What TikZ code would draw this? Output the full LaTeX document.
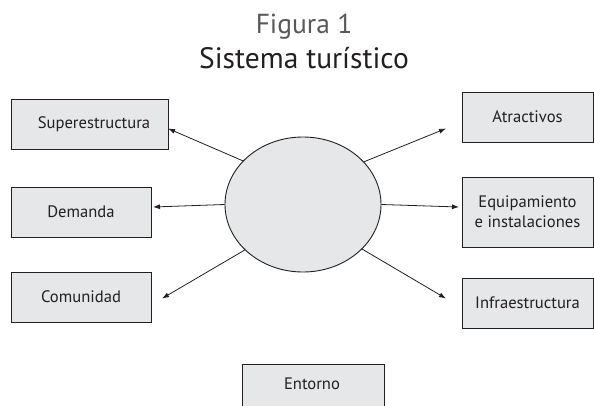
\documentclass[tikz,border=0pt]{standalone}
\usepackage{fontspec}
\setmainfont{PT Sans}
\usetikzlibrary{shapes.geometric,arrows.meta}
\definecolor{boxfill}{HTML}{E6E7E8}
\definecolor{ink}{HTML}{231F20}
\begin{document}
\begin{tikzpicture}[x=1pt,y=-1pt,
  box/.style={draw=ink,fill=boxfill,line width=0.9pt,rectangle,inner sep=0pt,font=\fontsize{16.6}{20}\selectfont,text=ink,align=center},
  arr/.style={draw=ink,line width=0.8pt,-{Latex[length=7pt,width=5pt]}}]
\useasboundingbox (0,0) rectangle (594,405);
\clip (0,0) rectangle (594,405);
\node[text=ink!75,font=\fontsize{27.5}{30}\selectfont,anchor=base] (t1) at (304,33) {Figura 1};
\node[text=ink,font=\fontsize{29.5}{33}\selectfont,anchor=base] (t2) at (304,68) {Sistema turístico};
\node[box,minimum width=157pt,minimum height=50pt] (sup) at (89.5,124) {\hspace*{9pt}Superestructura};
\node[box,minimum width=140pt,minimum height=50pt] (dem) at (81,212) {Demanda};
\node[box,minimum width=140pt,minimum height=50pt] (com) at (81,297) {Comunidad};
\node[box,minimum width=131pt,minimum height=50pt] (atr) at (527.5,117) {Atractivos};
\node[box,minimum width=131pt,minimum height=70pt] (equ) at (527.5,212) {Equipamiento\\e instalaciones};
\node[box,minimum width=131pt,minimum height=50pt] (inf) at (527.5,303) {Infraestructura};
\node[box,minimum width=142pt,minimum height=82pt,anchor=north] (ent) at (313,364) {};
\node[font=\fontsize{16.6}{20}\selectfont,text=ink] (entl) at (312,384) {Entorno};
\node[draw=ink,fill=boxfill,line width=0.9pt,ellipse,inner sep=0pt,minimum width=156pt,minimum height=135pt] (e) at (303,204.5) {};
\coordinate (c1) at (168,128.5);
\coordinate (c2) at (153,207);
\coordinate (c3) at (162,298.5);
\coordinate (c4) at (446,128.5);
\coordinate (c5) at (459,207);
\coordinate (c6) at (446,298.5);
\draw[arr] (e.144) -- (c1);
\draw[arr] (e.180) -- (c2);
\draw[arr] (e.218) -- (c3);
\draw[arr] (e.35) -- (c4);
\draw[arr] (e.0) -- (c5);
\draw[arr] (e.-37) -- (c6);
\end{tikzpicture}
\end{document}
